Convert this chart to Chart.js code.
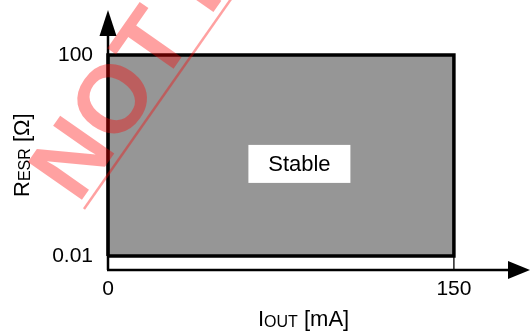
<!DOCTYPE html>
<html>
<head>
<meta charset="utf-8">
<script src="https://cdn.jsdelivr.net/npm/chart.js@4.4.0/dist/chart.umd.min.js"></script>
<style>
  html, body { margin: 0; padding: 0; background: #fff; }
  #wrap { position: relative; width: 532px; height: 333px; }
</style>
</head>
<body>
<div id="wrap"><canvas id="esrChart"></canvas></div>
<script>
// Stabilitaetsbereich: I_OUT in mA, R_ESR in Ohm
const currentLimits = [0, 150];
const esrLimits = [0.01, 100];
const xTickValues = [0, 150];
const yTickValues = [0.01, 100];
const regionLabel = 'Stable';
const watermarkText = 'NOT RECOMMENDED';

// geschlossener Umriss des Bereichs
const regionOutline = [
    { x: currentLimits[0], y: esrLimits[0] },
    { x: currentLimits[0], y: esrLimits[1] },
    { x: currentLimits[1], y: esrLimits[1] },
    { x: currentLimits[1], y: esrLimits[0] },
    { x: currentLimits[0], y: esrLimits[0] }
];

const FONT = "'Liberation Sans', Arial, sans-serif";
Chart.defaults.font.family = FONT;
Chart.defaults.color = '#000';

// Text mit Index (z.B. R_ESR) stueckweise zeichnen
function drawParts(ctx, parts) {
    let x = 0;
    parts.forEach(function(p) {
        ctx.font = p.size + 'px ' + FONT;
        ctx.fillText(p.t, x, p.dy || 0);
        x += ctx.measureText(p.t).width;
    });
}

function arrowHead(ctx, tipX, tipY, dir, len, half) {
    ctx.beginPath();
    if (dir === 'up') {
        ctx.moveTo(tipX, tipY);
        ctx.lineTo(tipX - half, tipY + len);
        ctx.lineTo(tipX + half, tipY + len);
    } else {
        ctx.moveTo(tipX, tipY);
        ctx.lineTo(tipX - len, tipY - half);
        ctx.lineTo(tipX - len, tipY + half);
    }
    ctx.closePath();
    ctx.fill();
}

const decorPlugin = {
    id: 'decor',
    afterDatasetsDraw(chart) {
        const { ctx, chartArea: a, scales: { x, y } } = chart;
        const x0 = x.getPixelForValue(currentLimits[0]);
        const yLow = y.getPixelForValue(esrLimits[0]);

        ctx.save();
        ctx.strokeStyle = '#000';
        ctx.fillStyle = '#000';
        ctx.lineWidth = 2.5;

        // Achsen mit Pfeilen
        ctx.beginPath();
        ctx.moveTo(x0, a.bottom);
        ctx.lineTo(x0, a.top + 20);
        ctx.moveTo(x0 - 1, a.bottom);
        ctx.lineTo(a.right - 18, a.bottom);
        ctx.stroke();
        arrowHead(ctx, x0, a.top, 'up', 26, 8.5);
        arrowHead(ctx, a.right, a.bottom, 'right', 22, 9);

        // kleiner Strich bei 150 mA
        const x150 = x.getPixelForValue(currentLimits[1]);
        ctx.lineWidth = 1.3;
        ctx.beginPath();
        ctx.moveTo(x150, yLow);
        ctx.lineTo(x150, a.bottom);
        ctx.stroke();

        // Beschriftung "Stable"
        const lx = x.getPixelForValue(83);
        const ly = y.getPixelForValue(0.68);
        ctx.fillStyle = '#fff';
        ctx.fillRect(lx - 51, ly - 19, 102, 38);
        ctx.fillStyle = '#000';
        ctx.font = '22px ' + FONT;
        ctx.textAlign = 'center';
        ctx.textBaseline = 'middle';
        ctx.fillText(regionLabel, lx, ly + 1);

        // Achsentitel
        ctx.textAlign = 'left';
        ctx.textBaseline = 'alphabetic';
        ctx.save();
        ctx.translate(258, 326);
        drawParts(ctx, [
            { t: 'I', size: 22 },
            { t: 'OUT', size: 16, dy: 1 },
            { t: ' [mA]', size: 22 }
        ]);
        ctx.restore();

        ctx.save();
        ctx.translate(29, 197);
        ctx.rotate(-Math.PI / 2);
        drawParts(ctx, [
            { t: 'R', size: 22 },
            { t: 'ESR', size: 16, dy: 1 },
            { t: ' [\u03A9]', size: 22 }
        ]);
        ctx.restore();

        // Wasserzeichen
        ctx.save();
        ctx.translate(84, 209);
        ctx.rotate(-55 * Math.PI / 180);
        ctx.fillStyle = 'rgba(255, 0, 0, 0.37)';
        ctx.strokeStyle = 'rgba(255, 0, 0, 0.37)';
        ctx.font = 'bold 96px ' + FONT;
        ctx.fillText(watermarkText, 0, -7);
        ctx.lineWidth = 2.5;
        ctx.beginPath();
        ctx.moveTo(0, 0);
        ctx.lineTo(600, 0);
        ctx.stroke();
        ctx.restore();

        ctx.restore();
    }
};

const config = {
    type: 'scatter',
    data: {
        datasets: [{
            data: regionOutline,
            showLine: true,
            tension: 0,
            fill: 'shape',
            backgroundColor: '#969696',
            borderColor: '#000',
            borderWidth: 3.5,
            borderJoinStyle: 'miter',
            pointRadius: 0,
            clip: false
        }]
    },
    options: {
        responsive: true,
        maintainAspectRatio: false,
        animation: false,
        layout: { padding: { left: 0, top: 10, right: 2, bottom: 0 } },
        plugins: {
            legend: { display: false },
            tooltip: { enabled: false }
        },
        scales: {
            x: {
                type: 'linear',
                min: 0,
                max: 183,
                grid: { display: false, drawTicks: false },
                border: { display: false },
                afterBuildTicks: function(scale) {
                    scale.ticks = xTickValues.map(v => ({ value: v }));
                },
                afterFit: function(scale) {
                    scale.height = 63;
                    scale.paddingLeft = 0;
                    scale.paddingRight = 0;
                },
                ticks: {
                    font: { size: 21 },
                    padding: 7,
                    maxRotation: 0,
                    callback: v => String(v)
                }
            },
            y: {
                type: 'logarithmic',
                min: 0.00526,
                max: 786,
                grid: { display: false, drawTicks: false },
                border: { display: false },
                afterBuildTicks: function(scale) {
                    scale.ticks = yTickValues.map(v => ({ value: v }));
                },
                afterFit: function(scale) {
                    scale.width = 108;
                    scale.paddingTop = 0;
                    scale.paddingBottom = 0;
                },
                ticks: {
                    font: { size: 21 },
                    padding: 15,
                    callback: v => String(v)
                }
            }
        }
    },
    plugins: [decorPlugin]
};

new Chart(document.getElementById('esrChart'), config);
</script>
</body>
</html>
